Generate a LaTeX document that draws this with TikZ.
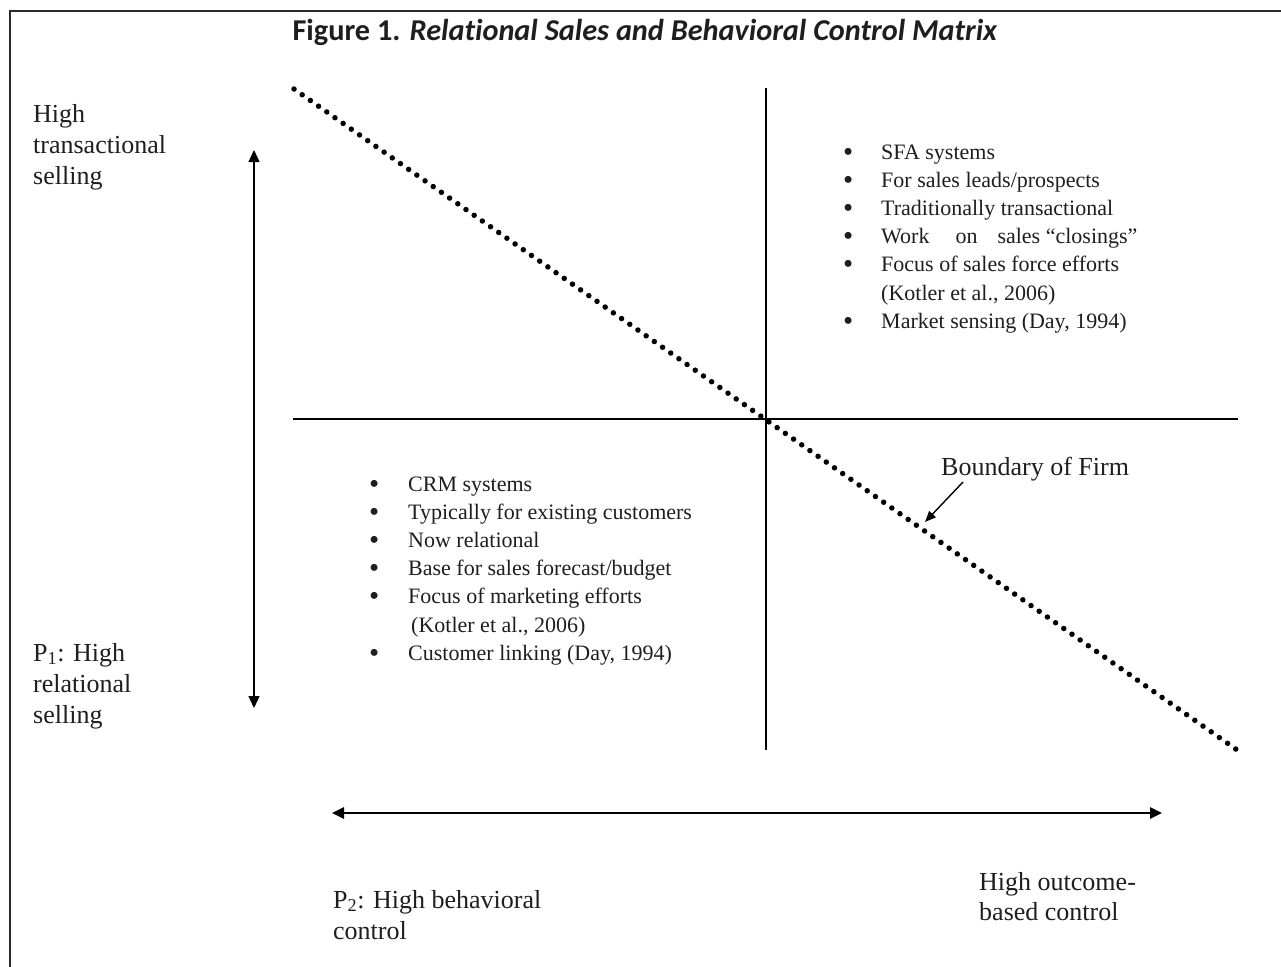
\documentclass[tikz,border=0pt]{standalone}
\usepackage{fontspec}
\setmainfont{Liberation Serif}
\newfontfamily\titlefont[Ligatures=NoCommon]{Carlito}
\usetikzlibrary{arrows.meta}
\definecolor{txt}{HTML}{1E1E1E}
\definecolor{frame}{HTML}{2A2A2A}
\newcommand\bulA{\makebox[38pt][l]{\raisebox{-2pt}{\fontsize{29}{29}\selectfont\textbullet}}}
\newcommand\bulB{\makebox[39pt][l]{\raisebox{-2pt}{\fontsize{29}{29}\selectfont\textbullet}}}
\begin{document}
\begin{tikzpicture}[x=1pt,y=-1pt,
  lbl/.style={inner sep=0pt, anchor=base west, text=txt, font=\fontsize{26}{31}\selectfont},
  lst/.style={inner sep=0pt, anchor=base west, text=txt, font=\fontsize{22}{28.2}\selectfont},
  axisline/.style={line width=1.5pt, draw=black},
  dblarrow/.style={line width=#1, draw=black, {Triangle[length=12pt,width=11pt]}-{Triangle[length=12pt,width=11pt]}},
  boundary/.style={line width=5.5pt, draw=black, line cap=round, dash pattern=on 0pt off 10pt},
  pointer/.style={line width=1.4pt, draw=black, -{Triangle[length=11pt,width=9pt]}}]
\useasboundingbox (0,0) rectangle (1281,966);
% frame (left and top edges)
\draw[line width=2.6pt, draw=frame] (10,970) -- (10,11) -- (1285,11);
% title
\node[anchor=base, inner sep=0pt, text=txt, font=\titlefont\bfseries\fontsize{30.3}{34}\selectfont] (title) at (645,41)
  {Figure 1. \textit{Relational Sales and Behavioral Control Matrix}};
% axes
\coordinate (vtop) at (766,88);
\coordinate (vbot) at (766,750);
\coordinate (hl) at (293,419);
\coordinate (hr) at (1238,419);
\draw[axisline] (vtop) -- (vbot);
\draw[axisline] (hl) -- (hr);
% boundary of firm dotted line
\coordinate (bstart) at (294,89);
\coordinate (bend) at (1240,752);
\draw[boundary] (bstart) -- (bend);
% left double arrow
\coordinate (va) at (254,150);
\coordinate (vb) at (254,708);
\draw[dblarrow=1.4pt] (va) -- (vb);
% bottom double arrow
\coordinate (ha) at (332,813);
\coordinate (hb) at (1162,813);
\draw[dblarrow=2.6pt] (ha) -- (hb);
% labels
\node[lbl] (hts) at (33,122) {\begin{tabular}[t]{@{}l@{}}High\\transactional\\selling\end{tabular}};
\node[lbl] (hrs) at (33,661) {\begin{tabular}[t]{@{}l@{}}P\textsubscript{1}: High\\relational\\selling\end{tabular}};
\node[lbl] (hbc) at (333,908) {\begin{tabular}[t]{@{}l@{}}P\textsubscript{2}: High behavioral\\control\end{tabular}};
\node[lbl, font=\fontsize{26}{30}\selectfont] (hoc) at (979,890) {\begin{tabular}[t]{@{}l@{}}High outcome-\\based control\end{tabular}};
% boundary label and pointer
\node[lbl] (bof) at (941,475) {Boundary of Firm};
\coordinate (ptail) at (963,482);
\coordinate (ptip) at (925,522);
\draw[pointer] (ptail) -- (ptip);
% upper-right list
\node[lst] (sfa) at (843,159) {\begin{tabular}[t]{@{}l@{}l@{}}
\bulA & SFA systems\\
\bulA & For sales leads/prospects\\
\bulA & Traditionally transactional\\
\bulA & Work\hspace{26pt}on\hspace{20pt}sales “closings”\\
\bulA & Focus of sales force efforts\\
 & (Kotler et al., 2006)\\
\bulA & Market sensing (Day, 1994)
\end{tabular}};
% lower-left list
\node[lst] (crm) at (369,491) {\begin{tabular}[t]{@{}l@{}l@{}}
\bulB & CRM systems\\
\bulB & Typically for existing customers\\
\bulB & Now relational\\
\bulB & Base for sales forecast/budget\\
\bulB & Focus of marketing efforts\\
 & \hspace{3pt}(Kotler et al., 2006)\\
\bulB & Customer linking (Day, 1994)
\end{tabular}};
\end{tikzpicture}
\end{document}
